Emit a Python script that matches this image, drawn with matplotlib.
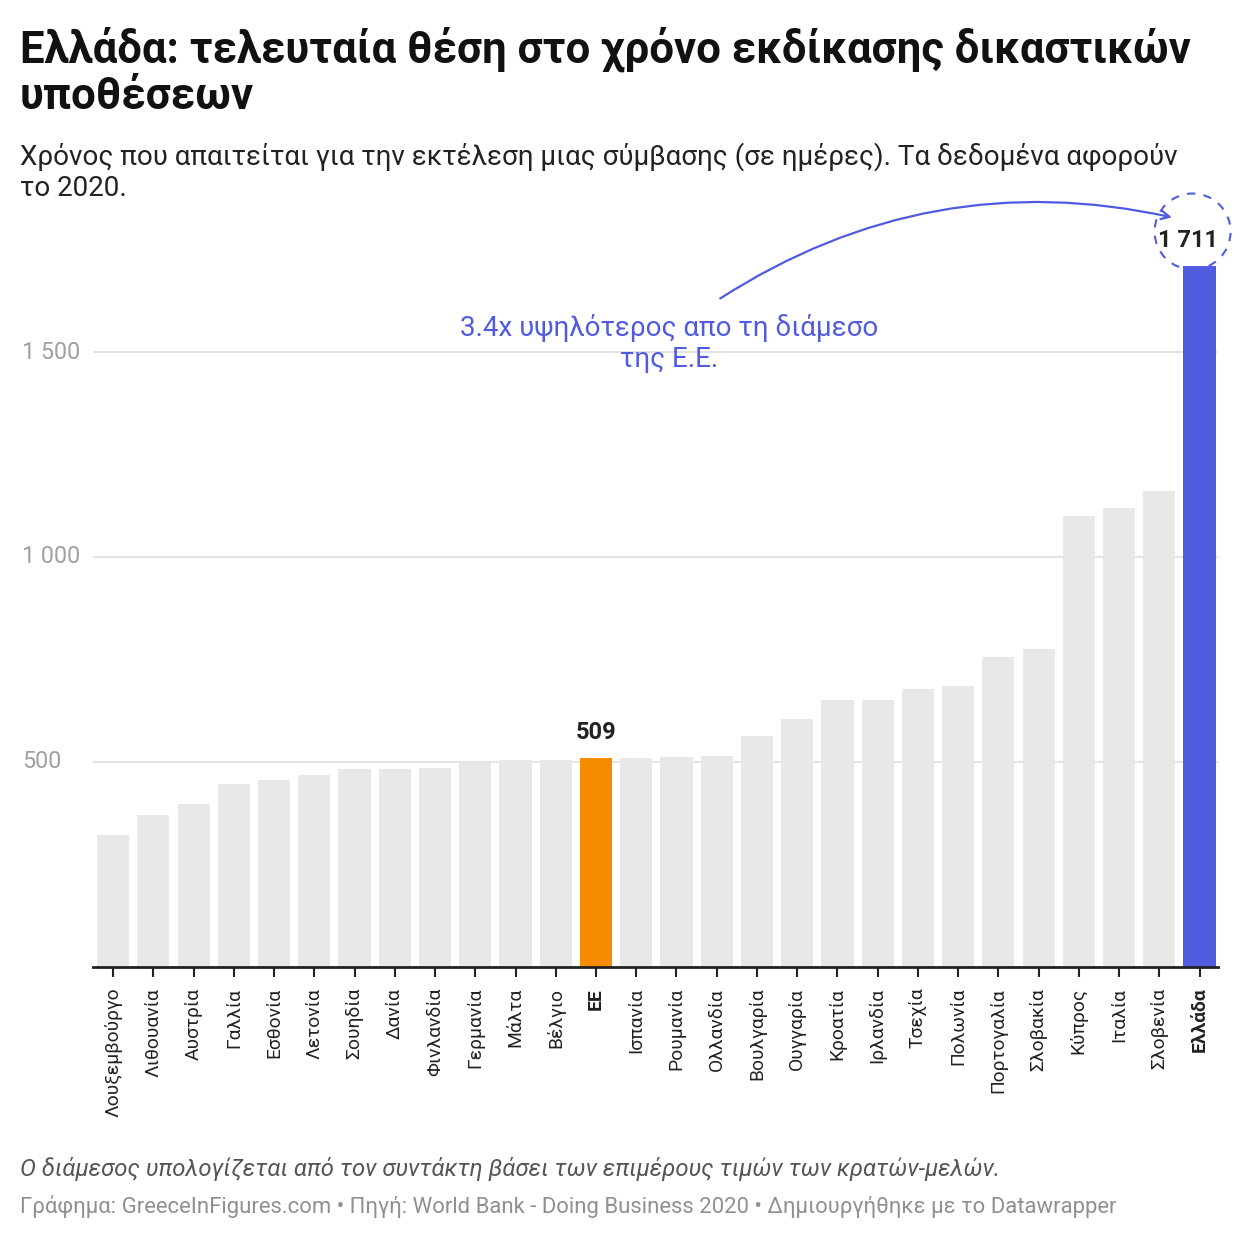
import matplotlib
matplotlib.use('Agg')
import matplotlib.pyplot as plt
import matplotlib.transforms as mtransforms
from matplotlib.patches import Circle

plt.rcParams['font.family'] = ['Roboto', 'DejaVu Sans']

# δεδομένα (ημέρες για την εκτέλεση σύμβασης, 2020)
countries = ['Λουξεμβούργο', 'Λιθουανία', 'Αυστρία', 'Γαλλία', 'Εσθονία', 'Λετονία',
             'Σουηδία', 'Δανία', 'Φινλανδία', 'Γερμανία', 'Μάλτα', 'Βέλγιο', 'ΕΕ',
             'Ισπανία', 'Ρουμανία', 'Ολλανδία', 'Βουλγαρία', 'Ουγγαρία', 'Κροατία',
             'Ιρλανδία', 'Τσεχία', 'Πολωνία', 'Πορτογαλία', 'Σλοβακία', 'Κύπρος',
             'Ιταλία', 'Σλοβενία', 'Ελλάδα']
days = [321, 370, 397, 447, 455, 469, 483, 483, 485, 499, 505, 505, 509,
        510, 512, 514, 564, 605, 650, 650, 678, 685, 755, 775, 1100,
        1120, 1160, 1711]
yticks = [500, 1000, 1500]
ytick_labels = ['500', '1 000', '1 500']

GREY = '#e8e8e8'
ORANGE = '#f68b00'
BLUE = '#505be0'

colors = [GREY] * len(days)
colors[countries.index('ΕΕ')] = ORANGE
colors[countries.index('Ελλάδα')] = BLUE

fig = plt.figure(figsize=(12.4, 12.4), dpi=100)
ax = fig.add_axes([0.075, 0.2202, 0.907, 0.5951])

x = list(range(len(days)))
ax.bar(x, days, width=0.8, color=colors, zorder=2)
ax.set_xlim(-0.5, len(days) - 0.55)
ax.set_ylim(0, 1800)

# πλέγμα
for t in yticks:
    ax.axhline(t, color='#e0e0e0', lw=1.3, zorder=1)
ax.set_yticks([])
tr = mtransforms.blended_transform_factory(fig.transFigure, ax.transData)
for t, lab in zip(yticks, ytick_labels):
    ax.text(22 / 1240, t, lab, transform=tr, ha='left', va='center',
            fontsize=16.8, color='#a0a0a0')

for s in ['top', 'right', 'left']:
    ax.spines[s].set_visible(False)
ax.spines['bottom'].set_color('#222222')
ax.spines['bottom'].set_linewidth(2)
ax.spines['bottom'].set_zorder(3)

ax.set_xticks(x)
ax.set_xticklabels(countries, rotation=90, fontsize=13.9, color='#222222')
ax.tick_params(axis='x', length=7, width=1.5, color='#222222', pad=8)
for lab in ax.get_xticklabels():
    if lab.get_text() in ('ΕΕ', 'Ελλάδα'):
        lab.set_fontweight('bold')

# ετικέτες τιμών
ei = countries.index('ΕΕ')
gi = countries.index('Ελλάδα')
ax.annotate(f'{days[ei]}', (ei, days[ei]), xytext=(0, 10), textcoords='offset points',
            ha='center', va='bottom', fontsize=17, fontweight='bold', color='#222222')
ax.annotate(f'{days[gi]:,}'.replace(',', ' '), (gi + 0.45, days[gi]), xytext=(0, 10),
            textcoords='offset points', ha='right', va='bottom',
            fontsize=17, fontweight='bold', color='#222222')

# σχόλιο
circ_tr = fig.dpi_scale_trans + mtransforms.ScaledTranslation(gi, days[gi], ax.transData)
ax.add_patch(Circle((-0.07, 0.34), 0.38, transform=circ_tr, fill=False,
                    ec=BLUE, lw=1.5, ls=(0, (4, 4)), clip_on=False, zorder=4))
ax.annotate('', xy=(26.38, 1827), xytext=(15.03, 1627),
            arrowprops=dict(arrowstyle='->,head_length=0.6,head_width=0.3', color=BLUE,
                            lw=1.6, connectionstyle='arc3,rad=-0.21'),
            annotation_clip=False)
ax.text(13.83, 1520, '3.4x υψηλότερος απο τη διάμεσο\nτης Ε.Ε.', ha='center', va='center',
        fontsize=20, color=BLUE, linespacing=1.2)

# κείμενα
fig.text(20 / 1240, 1 - 72 / 1240,
         'Ελλάδα: τελευταία θέση στο χρόνο εκδίκασης δικαστικών\nυποθέσεων',
         ha='left', va='center', fontsize=31.5, fontweight='bold', color='#111111',
         linespacing=1.12)
fig.text(20 / 1240, 1 - 172 / 1240,
         'Χρόνος που απαιτείται για την εκτέλεση μιας σύμβασης (σε ημέρες). Τα δεδομένα αφορούν\nτο 2020.',
         ha='left', va='center', fontsize=20, color='#222222', linespacing=1.2)
fig.text(20 / 1240, 1 - 1169 / 1240,
         'Ο διάμεσος υπολογίζεται από τον συντάκτη βάσει των επιμέρους τιμών των κρατών-μελών.',
         ha='left', va='center', fontsize=17.2, style='italic', color='#555555')
fig.text(20 / 1240, 1 - 1206 / 1240,
         'Γράφημα: GreeceInFigures.com • Πηγή: World Bank - Doing Business 2020 • Δημιουργήθηκε με το Datawrapper',
         ha='left', va='center', fontsize=15.9, color='#909090')

fig.savefig('out.png', dpi=100)
